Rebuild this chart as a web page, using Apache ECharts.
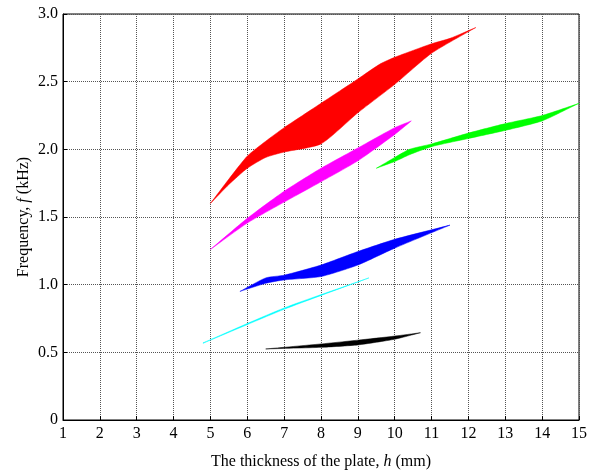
<!DOCTYPE html>
<html>
<head>
<meta charset="utf-8">
<script src="https://cdn.jsdelivr.net/npm/echarts@6/dist/echarts.min.js"></script>
<style>
  html, body { margin: 0; padding: 0; background: #fff; }
  #chart { width: 597px; height: 476px; }
</style>
</head>
<body>
<div id="chart"></div>
<script>
// Frequency bands: each band is the region between an upper and a lower curve [h (mm), f (kHz)]
const redUpper = [[5, 1.6], [5.5, 1.78], [6, 1.95], [6.5, 2.06], [7, 2.16], [8, 2.34], [9, 2.52], [9.6, 2.63], [10, 2.68], [11, 2.78], [11.5, 2.82], [12.2, 2.9]];
const redLower = [[5, 1.6], [5.5, 1.74], [6, 1.86], [6.5, 1.94], [7, 1.98], [8, 2.04], [9, 2.27], [10, 2.48], [11, 2.71], [12.2, 2.9]];

const magentaUpper = [[5, 1.26], [6, 1.49], [7, 1.69], [8, 1.86], [9, 2.01], [10, 2.16], [10.45, 2.21]];
const magentaLower = [[5, 1.26], [6, 1.455], [7, 1.61], [8, 1.76], [9, 1.915], [10, 2.11], [10.45, 2.21]];

const greenUpper = [[9.5, 1.86], [10, 1.94], [10.4, 2.0], [11, 2.04], [12, 2.12], [13, 2.19], [14, 2.25], [15, 2.34]];
const greenLower = [[9.5, 1.86], [10, 1.91], [10.4, 1.96], [11, 2.02], [12, 2.08], [13, 2.14], [14, 2.21], [15, 2.34]];

const blueUpper = [[5.8, 0.95], [6.5, 1.05], [7, 1.07], [8, 1.145], [9, 1.245], [10, 1.335], [11.5, 1.44]];
const blueLower = [[5.8, 0.95], [6.5, 1.01], [7, 1.035], [8, 1.06], [9, 1.145], [10, 1.27], [11.5, 1.44]];

const cyanUpper = [[4.8, 0.57], [7, 0.828], [9.3, 1.05]];
const cyanLower = [[4.8, 0.567], [7, 0.818], [9.3, 1.05]];

const blackUpper = [[6.5, 0.525], [8, 0.562], [9, 0.59], [10, 0.62], [10.7, 0.645]];
const blackLower = [[6.5, 0.525], [8, 0.537], [9, 0.555], [10, 0.597], [10.7, 0.645]];

const bandColors = ['#ff0000', '#ff00ff', '#00ff00', '#0000ff', '#00ffff', '#000000'];
const bands = [
  [redUpper, redLower],
  [magentaUpper, magentaLower],
  [greenUpper, greenLower],
  [blueUpper, blueLower],
  [cyanUpper, cyanLower],
  [blackUpper, blackLower]
];

const xTicks = { min: 1, max: 15, step: 1 };
const yTicks = { min: 0, max: 3, step: 0.5 };

const chart = echarts.init(document.getElementById('chart'), null, { renderer: 'canvas' });

const serif = 'Liberation Serif, Times New Roman, serif';

function bandSeries(pair, color) {
  const [upper, lower] = pair;
  const outline = upper.concat(lower.slice().reverse());
  return {
    type: 'custom',
    silent: true,
    data: [0],
    renderItem: function (params, api) {
      const pts = outline.map(p => api.coord(p));
      return {
        type: 'polygon',
        shape: { points: pts, smooth: 0.2 },
        style: { fill: color, stroke: color, lineWidth: 0.5 }
      };
    },
    clip: true
  };
}

const gridLine = { show: true, lineStyle: { color: '#555', width: 1, type: [1, 1] } };

const option = {
  animation: false,
  backgroundColor: '#fff',
  grid: {
    left: 63, right: 18, top: 14, bottom: 56,
    show: true, borderColor: '#000', borderWidth: 1, backgroundColor: 'transparent'
  },
  xAxis: {
    type: 'value',
    min: xTicks.min, max: xTicks.max, interval: xTicks.step,
    name: '{n|The thickness of the plate, }{i|h}{n| (mm)}',
    nameLocation: 'middle',
    nameGap: 34,
    nameTextStyle: {
      rich: {
        n: { fontFamily: serif, fontSize: 16, color: '#000' },
        i: { fontFamily: serif, fontSize: 16, color: '#000', fontStyle: 'italic' }
      }
    },
    axisLine: { show: true, lineStyle: { color: '#000', width: 1 } },
    axisTick: { show: true, inside: true, length: 4, lineStyle: { color: '#000' } },
    axisLabel: { color: '#000', fontFamily: serif, fontSize: 16, margin: 6 },
    splitLine: gridLine
  },
  yAxis: {
    type: 'value',
    min: yTicks.min, max: yTicks.max, interval: yTicks.step,
    name: '{n|Frequency, }{i|f}{n| (kHz)}',
    nameLocation: 'middle',
    nameGap: 31,
    nameMoveOverlap: false,
    nameRotate: 90,
    nameTextStyle: {
      rich: {
        n: { fontFamily: serif, fontSize: 16, color: '#000' },
        i: { fontFamily: serif, fontSize: 16, color: '#000', fontStyle: 'italic' }
      }
    },
    axisLine: { show: true, lineStyle: { color: '#000', width: 1 } },
    axisTick: { show: true, inside: true, length: 4, lineStyle: { color: '#000' } },
    axisLabel: {
      color: '#000', fontFamily: serif, fontSize: 16, margin: 5,
      formatter: v => (v === 0 ? '0' : v.toFixed(1))
    },
    splitLine: gridLine
  },
  series: bands.map((b, i) => bandSeries(b, bandColors[i]))
};

chart.setOption(option);
</script>
</body>
</html>
